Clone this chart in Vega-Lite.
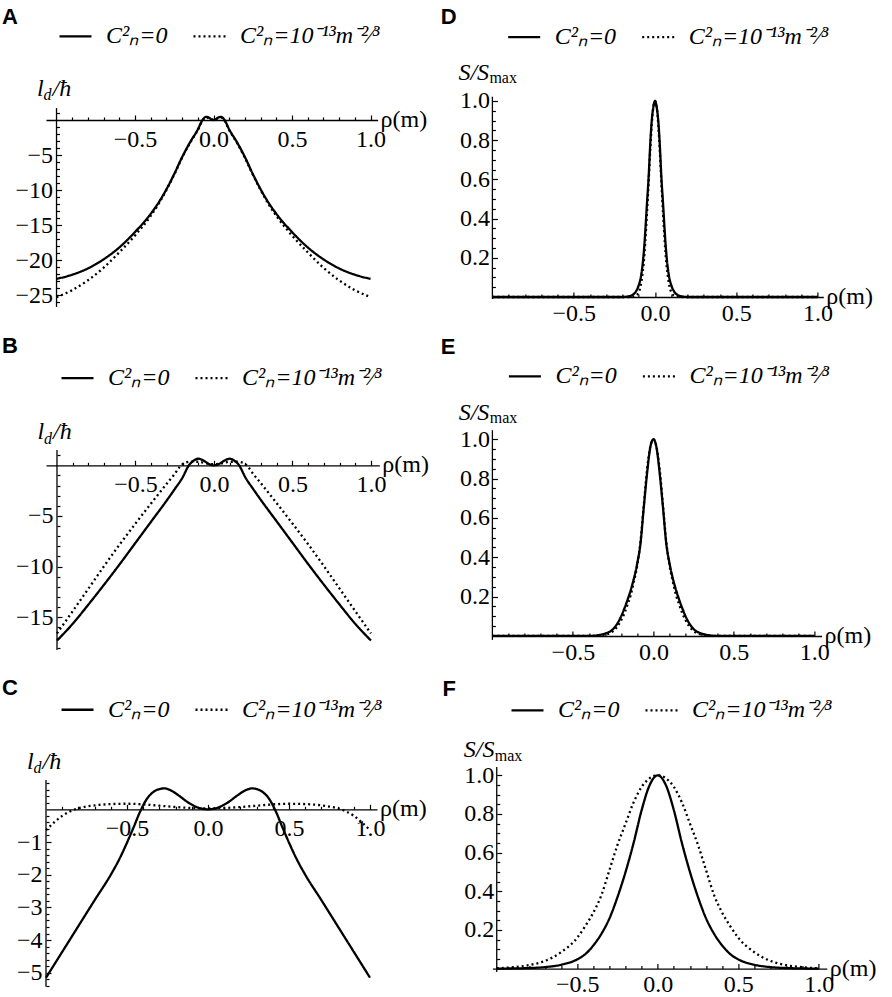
{
  "$schema": "https://vega.github.io/schema/vega-lite/v6.json",
  "background": "white",
  "padding": {"left": 2, "top": 5, "right": 5, "bottom": 5},
  "datasets": {
    "A": [
      {"r":-1,"s":"a","v":-22.7},{"r":-0.9,"s":"a","v":-22.1},{"r":-0.8,"s":"a","v":-21.2},{"r":-0.7,"s":"a","v":-19.9},{"r":-0.6,"s":"a","v":-18.2},{"r":-0.5,"s":"a","v":-16},{"r":-0.4,"s":"a","v":-13.4},{"r":-0.35,"s":"a","v":-11.8},{"r":-0.3,"s":"a","v":-9.9},{"r":-0.25,"s":"a","v":-7.7},{"r":-0.2,"s":"a","v":-5.3},{"r":-0.15,"s":"a","v":-3.2},{"r":-0.1,"s":"a","v":-1.35},{"r":-0.07,"s":"a","v":0},{"r":-0.05,"s":"a","v":0.45},{"r":-0.03,"s":"a","v":0.35},{"r":-0.015,"s":"a","v":0.1},{"r":0,"s":"a","v":0},
      {"r":0.015,"s":"a","v":0.1},{"r":0.03,"s":"a","v":0.35},{"r":0.05,"s":"a","v":0.45},{"r":0.07,"s":"a","v":0},{"r":0.1,"s":"a","v":-1.35},{"r":0.15,"s":"a","v":-3.2},{"r":0.2,"s":"a","v":-5.3},{"r":0.25,"s":"a","v":-7.7},{"r":0.3,"s":"a","v":-9.9},{"r":0.35,"s":"a","v":-11.8},{"r":0.4,"s":"a","v":-13.4},{"r":0.5,"s":"a","v":-16},{"r":0.6,"s":"a","v":-18.2},{"r":0.7,"s":"a","v":-19.9},{"r":0.8,"s":"a","v":-21.2},{"r":0.9,"s":"a","v":-22.1},{"r":1,"s":"a","v":-22.7},
      {"r":-1,"s":"b","v":-25.3},{"r":-0.9,"s":"b","v":-24.3},{"r":-0.8,"s":"b","v":-22.9},{"r":-0.7,"s":"b","v":-21.1},{"r":-0.6,"s":"b","v":-18.9},{"r":-0.5,"s":"b","v":-16.5},{"r":-0.4,"s":"b","v":-13.7},{"r":-0.35,"s":"b","v":-12},{"r":-0.3,"s":"b","v":-10},{"r":-0.25,"s":"b","v":-7.8},{"r":-0.2,"s":"b","v":-5.4},{"r":-0.15,"s":"b","v":-3.3},{"r":-0.1,"s":"b","v":-1.45},{"r":-0.07,"s":"b","v":-0.1},{"r":-0.05,"s":"b","v":0.35},{"r":-0.03,"s":"b","v":0.3},{"r":-0.015,"s":"b","v":0.1},{"r":0,"s":"b","v":0},
      {"r":0.015,"s":"b","v":0.1},{"r":0.03,"s":"b","v":0.3},{"r":0.05,"s":"b","v":0.35},{"r":0.07,"s":"b","v":-0.1},{"r":0.1,"s":"b","v":-1.45},{"r":0.15,"s":"b","v":-3.3},{"r":0.2,"s":"b","v":-5.4},{"r":0.25,"s":"b","v":-7.8},{"r":0.3,"s":"b","v":-10},{"r":0.35,"s":"b","v":-12},{"r":0.4,"s":"b","v":-13.7},{"r":0.5,"s":"b","v":-16.5},{"r":0.6,"s":"b","v":-18.9},{"r":0.7,"s":"b","v":-21.1},{"r":0.8,"s":"b","v":-22.9},{"r":0.9,"s":"b","v":-24.3},{"r":1,"s":"b","v":-25.3}
    ],
    "B": [
      {"r":-1,"s":"a","v":-17.3},{"r":-0.9,"s":"a","v":-15.65},{"r":-0.8,"s":"a","v":-13.75},{"r":-0.7,"s":"a","v":-11.78},{"r":-0.6,"s":"a","v":-9.75},{"r":-0.5,"s":"a","v":-7.65},{"r":-0.4,"s":"a","v":-5.55},{"r":-0.3,"s":"a","v":-3.45},{"r":-0.25,"s":"a","v":-2.35},{"r":-0.2,"s":"a","v":-1.2},{"r":-0.16,"s":"a","v":0},{"r":-0.13,"s":"a","v":0.45},{"r":-0.1,"s":"a","v":0.65},{"r":-0.07,"s":"a","v":0.5},{"r":-0.04,"s":"a","v":0.2},{"r":-0.02,"s":"a","v":0.05},{"r":0,"s":"a","v":0},
      {"r":0.02,"s":"a","v":0.05},{"r":0.04,"s":"a","v":0.2},{"r":0.07,"s":"a","v":0.5},{"r":0.1,"s":"a","v":0.65},{"r":0.13,"s":"a","v":0.45},{"r":0.16,"s":"a","v":0},{"r":0.2,"s":"a","v":-1.2},{"r":0.25,"s":"a","v":-2.35},{"r":0.3,"s":"a","v":-3.45},{"r":0.4,"s":"a","v":-5.55},{"r":0.5,"s":"a","v":-7.65},{"r":0.6,"s":"a","v":-9.75},{"r":0.7,"s":"a","v":-11.78},{"r":0.8,"s":"a","v":-13.75},{"r":0.9,"s":"a","v":-15.65},{"r":1,"s":"a","v":-17.3},
      {"r":-1,"s":"b","v":-16.6},{"r":-0.9,"s":"b","v":-14.4},{"r":-0.8,"s":"b","v":-12.18},{"r":-0.7,"s":"b","v":-9.95},{"r":-0.6,"s":"b","v":-7.8},{"r":-0.5,"s":"b","v":-5.75},{"r":-0.4,"s":"b","v":-3.75},{"r":-0.3,"s":"b","v":-1.8},{"r":-0.25,"s":"b","v":-0.85},{"r":-0.22,"s":"b","v":-0.2},{"r":-0.19,"s":"b","v":0.2},{"r":-0.15,"s":"b","v":0.35},{"r":-0.1,"s":"b","v":0.35},{"r":-0.05,"s":"b","v":0.2},{"r":0,"s":"b","v":0.1},
      {"r":0.05,"s":"b","v":0.2},{"r":0.1,"s":"b","v":0.35},{"r":0.15,"s":"b","v":0.35},{"r":0.19,"s":"b","v":0.2},{"r":0.22,"s":"b","v":-0.2},{"r":0.25,"s":"b","v":-0.85},{"r":0.3,"s":"b","v":-1.8},{"r":0.4,"s":"b","v":-3.75},{"r":0.5,"s":"b","v":-5.75},{"r":0.6,"s":"b","v":-7.8},{"r":0.7,"s":"b","v":-9.95},{"r":0.8,"s":"b","v":-12.18},{"r":0.9,"s":"b","v":-14.4},{"r":1,"s":"b","v":-16.6}
    ],
    "C": [
      {"r":-1,"s":"a","v":-5.15},{"r":-0.9,"s":"a","v":-4.36},{"r":-0.8,"s":"a","v":-3.57},{"r":-0.7,"s":"a","v":-2.78},{"r":-0.6,"s":"a","v":-2},{"r":-0.55,"s":"a","v":-1.55},{"r":-0.5,"s":"a","v":-1.02},{"r":-0.46,"s":"a","v":-0.56},{"r":-0.42,"s":"a","v":-0.08},{"r":-0.38,"s":"a","v":0.3},{"r":-0.34,"s":"a","v":0.52},{"r":-0.3,"s":"a","v":0.62},{"r":-0.27,"s":"a","v":0.64},{"r":-0.23,"s":"a","v":0.58},{"r":-0.18,"s":"a","v":0.42},{"r":-0.12,"s":"a","v":0.2},{"r":-0.06,"s":"a","v":0.05},{"r":0,"s":"a","v":0},
      {"r":0.06,"s":"a","v":0.05},{"r":0.12,"s":"a","v":0.2},{"r":0.18,"s":"a","v":0.42},{"r":0.23,"s":"a","v":0.58},{"r":0.27,"s":"a","v":0.64},{"r":0.3,"s":"a","v":0.62},{"r":0.34,"s":"a","v":0.52},{"r":0.38,"s":"a","v":0.3},{"r":0.42,"s":"a","v":-0.08},{"r":0.46,"s":"a","v":-0.56},{"r":0.5,"s":"a","v":-1.02},{"r":0.55,"s":"a","v":-1.55},{"r":0.6,"s":"a","v":-2},{"r":0.7,"s":"a","v":-2.78},{"r":0.8,"s":"a","v":-3.57},{"r":0.9,"s":"a","v":-4.36},{"r":1,"s":"a","v":-5.15},
      {"r":-1,"s":"b","v":-0.64},{"r":-0.95,"s":"b","v":-0.4},{"r":-0.9,"s":"b","v":-0.2},{"r":-0.85,"s":"b","v":-0.06},{"r":-0.8,"s":"b","v":0.03},{"r":-0.7,"s":"b","v":0.12},{"r":-0.6,"s":"b","v":0.16},{"r":-0.5,"s":"b","v":0.17},{"r":-0.4,"s":"b","v":0.15},{"r":-0.3,"s":"b","v":0.11},{"r":-0.2,"s":"b","v":0.07},{"r":-0.1,"s":"b","v":0.04},{"r":0,"s":"b","v":0.03},
      {"r":0.1,"s":"b","v":0.04},{"r":0.2,"s":"b","v":0.07},{"r":0.3,"s":"b","v":0.11},{"r":0.4,"s":"b","v":0.15},{"r":0.5,"s":"b","v":0.17},{"r":0.6,"s":"b","v":0.16},{"r":0.7,"s":"b","v":0.12},{"r":0.8,"s":"b","v":0.03},{"r":0.85,"s":"b","v":-0.06},{"r":0.9,"s":"b","v":-0.2},{"r":0.95,"s":"b","v":-0.4},{"r":1,"s":"b","v":-0.64}
    ],
    "D": [
      {"r":-1,"s":"a","v":0},{"r":-0.5,"s":"a","v":0},{"r":-0.2,"s":"a","v":0},{"r":-0.17,"s":"a","v":0.002},{"r":-0.14,"s":"a","v":0.01},{"r":-0.12,"s":"a","v":0.025},{"r":-0.1,"s":"a","v":0.06},{"r":-0.09,"s":"a","v":0.09},{"r":-0.08,"s":"a","v":0.14},{"r":-0.072,"s":"a","v":0.2},{"r":-0.065,"s":"a","v":0.27},{"r":-0.055,"s":"a","v":0.4},{"r":-0.05,"s":"a","v":0.47},{"r":-0.04,"s":"a","v":0.6},{"r":-0.028,"s":"a","v":0.8},{"r":-0.02,"s":"a","v":0.9},{"r":-0.01,"s":"a","v":0.97},{"r":0,"s":"a","v":1},
      {"r":0.01,"s":"a","v":0.97},{"r":0.02,"s":"a","v":0.9},{"r":0.028,"s":"a","v":0.8},{"r":0.04,"s":"a","v":0.6},{"r":0.05,"s":"a","v":0.47},{"r":0.055,"s":"a","v":0.4},{"r":0.065,"s":"a","v":0.27},{"r":0.072,"s":"a","v":0.2},{"r":0.08,"s":"a","v":0.14},{"r":0.09,"s":"a","v":0.09},{"r":0.1,"s":"a","v":0.06},{"r":0.12,"s":"a","v":0.025},{"r":0.14,"s":"a","v":0.01},{"r":0.17,"s":"a","v":0.002},{"r":0.2,"s":"a","v":0},{"r":0.5,"s":"a","v":0},{"r":1,"s":"a","v":0},
      {"r":-1,"s":"b","v":0},{"r":-0.5,"s":"b","v":0},{"r":-0.16,"s":"b","v":0},{"r":-0.14,"s":"b","v":0.001},{"r":-0.12,"s":"b","v":0.006},{"r":-0.1,"s":"b","v":0.025},{"r":-0.09,"s":"b","v":0.05},{"r":-0.08,"s":"b","v":0.1},{"r":-0.07,"s":"b","v":0.17},{"r":-0.06,"s":"b","v":0.28},{"r":-0.05,"s":"b","v":0.42},{"r":-0.04,"s":"b","v":0.57},{"r":-0.03,"s":"b","v":0.74},{"r":-0.02,"s":"b","v":0.88},{"r":-0.01,"s":"b","v":0.97},{"r":0,"s":"b","v":1},
      {"r":0.01,"s":"b","v":0.97},{"r":0.02,"s":"b","v":0.88},{"r":0.03,"s":"b","v":0.74},{"r":0.04,"s":"b","v":0.57},{"r":0.05,"s":"b","v":0.42},{"r":0.06,"s":"b","v":0.28},{"r":0.07,"s":"b","v":0.17},{"r":0.08,"s":"b","v":0.1},{"r":0.09,"s":"b","v":0.05},{"r":0.1,"s":"b","v":0.025},{"r":0.12,"s":"b","v":0.006},{"r":0.14,"s":"b","v":0.001},{"r":0.16,"s":"b","v":0},{"r":0.5,"s":"b","v":0},{"r":1,"s":"b","v":0}
    ],
    "E": [
      {"r":-1,"s":"a","v":0},{"r":-0.5,"s":"a","v":0},{"r":-0.4,"s":"a","v":0},{"r":-0.35,"s":"a","v":0.003},{"r":-0.3,"s":"a","v":0.012},{"r":-0.25,"s":"a","v":0.035},{"r":-0.22,"s":"a","v":0.068},{"r":-0.2,"s":"a","v":0.1},{"r":-0.18,"s":"a","v":0.14},{"r":-0.16,"s":"a","v":0.185},{"r":-0.14,"s":"a","v":0.235},{"r":-0.12,"s":"a","v":0.295},{"r":-0.1,"s":"a","v":0.37},{"r":-0.08,"s":"a","v":0.47},{"r":-0.06,"s":"a","v":0.65},{"r":-0.04,"s":"a","v":0.82},{"r":-0.02,"s":"a","v":0.955},{"r":0,"s":"a","v":1},
      {"r":0.02,"s":"a","v":0.955},{"r":0.04,"s":"a","v":0.82},{"r":0.06,"s":"a","v":0.65},{"r":0.08,"s":"a","v":0.47},{"r":0.1,"s":"a","v":0.37},{"r":0.12,"s":"a","v":0.295},{"r":0.14,"s":"a","v":0.235},{"r":0.16,"s":"a","v":0.185},{"r":0.18,"s":"a","v":0.14},{"r":0.2,"s":"a","v":0.1},{"r":0.22,"s":"a","v":0.068},{"r":0.25,"s":"a","v":0.035},{"r":0.3,"s":"a","v":0.012},{"r":0.35,"s":"a","v":0.003},{"r":0.4,"s":"a","v":0},{"r":0.5,"s":"a","v":0},{"r":1,"s":"a","v":0},
      {"r":-1,"s":"b","v":0},{"r":-0.5,"s":"b","v":0},{"r":-0.4,"s":"b","v":0},{"r":-0.35,"s":"b","v":0.001},{"r":-0.3,"s":"b","v":0.006},{"r":-0.25,"s":"b","v":0.025},{"r":-0.22,"s":"b","v":0.052},{"r":-0.2,"s":"b","v":0.08},{"r":-0.18,"s":"b","v":0.115},{"r":-0.16,"s":"b","v":0.16},{"r":-0.14,"s":"b","v":0.21},{"r":-0.12,"s":"b","v":0.28},{"r":-0.1,"s":"b","v":0.36},{"r":-0.08,"s":"b","v":0.48},{"r":-0.06,"s":"b","v":0.66},{"r":-0.04,"s":"b","v":0.84},{"r":-0.02,"s":"b","v":0.96},{"r":0,"s":"b","v":1},
      {"r":0.02,"s":"b","v":0.96},{"r":0.04,"s":"b","v":0.84},{"r":0.06,"s":"b","v":0.66},{"r":0.08,"s":"b","v":0.48},{"r":0.1,"s":"b","v":0.36},{"r":0.12,"s":"b","v":0.28},{"r":0.14,"s":"b","v":0.21},{"r":0.16,"s":"b","v":0.16},{"r":0.18,"s":"b","v":0.115},{"r":0.2,"s":"b","v":0.08},{"r":0.22,"s":"b","v":0.052},{"r":0.25,"s":"b","v":0.025},{"r":0.3,"s":"b","v":0.006},{"r":0.35,"s":"b","v":0.001},{"r":0.4,"s":"b","v":0},{"r":0.5,"s":"b","v":0},{"r":1,"s":"b","v":0}
    ],
    "F": [
      {"r":-1,"s":"a","v":0},{"r":-0.9,"s":"a","v":0.001},{"r":-0.8,"s":"a","v":0.003},{"r":-0.7,"s":"a","v":0.008},{"r":-0.6,"s":"a","v":0.02},{"r":-0.5,"s":"a","v":0.048},{"r":-0.45,"s":"a","v":0.075},{"r":-0.4,"s":"a","v":0.12},{"r":-0.35,"s":"a","v":0.18},{"r":-0.3,"s":"a","v":0.26},{"r":-0.25,"s":"a","v":0.37},{"r":-0.2,"s":"a","v":0.5},{"r":-0.15,"s":"a","v":0.65},{"r":-0.1,"s":"a","v":0.82},{"r":-0.05,"s":"a","v":0.95},{"r":0,"s":"a","v":1},
      {"r":0.05,"s":"a","v":0.95},{"r":0.1,"s":"a","v":0.82},{"r":0.15,"s":"a","v":0.65},{"r":0.2,"s":"a","v":0.5},{"r":0.25,"s":"a","v":0.37},{"r":0.3,"s":"a","v":0.26},{"r":0.35,"s":"a","v":0.18},{"r":0.4,"s":"a","v":0.12},{"r":0.45,"s":"a","v":0.075},{"r":0.5,"s":"a","v":0.048},{"r":0.6,"s":"a","v":0.02},{"r":0.7,"s":"a","v":0.008},{"r":0.8,"s":"a","v":0.003},{"r":0.9,"s":"a","v":0.001},{"r":1,"s":"a","v":0},
      {"r":-1,"s":"b","v":0.002},{"r":-0.9,"s":"b","v":0.007},{"r":-0.8,"s":"b","v":0.018},{"r":-0.7,"s":"b","v":0.04},{"r":-0.6,"s":"b","v":0.085},{"r":-0.5,"s":"b","v":0.16},{"r":-0.45,"s":"b","v":0.22},{"r":-0.4,"s":"b","v":0.29},{"r":-0.35,"s":"b","v":0.38},{"r":-0.3,"s":"b","v":0.51},{"r":-0.25,"s":"b","v":0.64},{"r":-0.2,"s":"b","v":0.75},{"r":-0.15,"s":"b","v":0.86},{"r":-0.1,"s":"b","v":0.94},{"r":-0.05,"s":"b","v":0.985},{"r":0,"s":"b","v":1},
      {"r":0.05,"s":"b","v":0.985},{"r":0.1,"s":"b","v":0.94},{"r":0.15,"s":"b","v":0.86},{"r":0.2,"s":"b","v":0.75},{"r":0.25,"s":"b","v":0.64},{"r":0.3,"s":"b","v":0.51},{"r":0.35,"s":"b","v":0.38},{"r":0.4,"s":"b","v":0.29},{"r":0.45,"s":"b","v":0.22},{"r":0.5,"s":"b","v":0.16},{"r":0.6,"s":"b","v":0.085},{"r":0.7,"s":"b","v":0.04},{"r":0.8,"s":"b","v":0.018},{"r":0.9,"s":"b","v":0.007},{"r":1,"s":"b","v":0.002}
    ]
  },
  "concat": [
    {
      "width": 331.6, "height": 216,
      "title": {"text": "A", "dx": -44, "dy": 14},
      "resolve": {"axis": {"x": "independent", "y": "independent"}},
      "layer": [
        {
          "data": {"name": "A"},
          "mark": {"type": "line", "interpolate": "monotone", "color": "black", "strokeWidth": 2.3},
          "encoding": {
            "x": {"field": "r", "type": "quantitative", "scale": {"domain": [-1.067, 1.045], "nice": false, "zero": false},
                  "axis": {"title": null, "orient": "bottom", "offset": -193, "labelPadding": 12, "values": [-0.5, 0, 0.5, 1], "format": ".1f"}},
            "y": {"field": "v", "type": "quantitative", "scale": {"domain": [-27.571, 3.286], "nice": false, "zero": false},
                  "axis": {"title": null, "orient": "left", "offset": -10.5, "domain": false, "labelPadding": 9, "values": [-25, -20, -15, -10, -5], "format": "d"}},
            "strokeDash": {"field": "s", "type": "nominal", "scale": {"domain": ["a", "b"], "range": [[1, 0], [2, 3]]},
                  "legend": {"title": null, "legendX": 12, "legendY": -78.3, "labelExpr": "datum.value == 'a' ? 'C²ₙ=0' : 'C²ₙ=10⁻¹³m⁻²⁄³'"}}
          }
        },
        {"data": {"values": [{}]}, "mark": {"type": "rule", "color": "black", "strokeWidth": 1.3},
         "encoding": {
           "x": {"datum": -1, "axis": {"title": null, "orient": "bottom", "offset": -193, "domain": false, "labels": false, "tickSize": -3, "values": [-0.9,-0.8,-0.7,-0.6,-0.4,-0.3,-0.2,-0.1,0.1,0.2,0.3,0.4,0.6,0.7,0.8,0.9]}},
           "y": {"datum": -26.7, "axis": {"title": null, "orient": "left", "offset": -10.5, "domain": false, "labels": false, "tickSize": -3, "values": [-26,-24,-23,-22,-21,-19,-18,-17,-16,-14,-13,-12,-11,-9,-8,-7,-6,-4,-3,-2,-1,1]}},
           "y2": {"datum": 1.7}}},
        {"data": {"values": [{}]}, "mark": {"type": "text", "text": "ρ(m)", "align": "left", "baseline": "middle", "dx": 3}, "encoding": {"x": {"datum": 1.045, "axis": null}, "y": {"datum": 0, "axis": null}}},
        {"data": {"values": [{}]}, "mark": {"type": "text", "text": "l", "fontStyle": "italic", "align": "left", "dx": -19.5, "dy": -12.5}, "encoding": {"x": {"datum": -1, "axis": null}, "y": {"datum": 1.7, "axis": null}}},
        {"data": {"values": [{}]}, "mark": {"type": "text", "text": "d", "fontStyle": "italic", "fontSize": 16, "align": "left", "dx": -13, "dy": -8}, "encoding": {"x": {"datum": -1, "axis": null}, "y": {"datum": 1.7, "axis": null}}},
        {"data": {"values": [{}]}, "mark": {"type": "text", "text": "/ħ", "fontStyle": "italic", "align": "left", "dx": -4, "dy": -12.5}, "encoding": {"x": {"datum": -1, "axis": null}, "y": {"datum": 1.7, "axis": null}}}
      ]
    },
    {
      "width": 330.9, "height": 216,
      "title": {"text": "D", "dx": -51.7, "dy": 13.7},
      "resolve": {"axis": {"x": "independent", "y": "independent"}},
      "layer": [
        {
          "data": {"name": "D"},
          "mark": {"type": "line", "interpolate": "monotone", "color": "black", "strokeWidth": 2.3},
          "encoding": {
            "x": {"field": "r", "type": "quantitative", "scale": {"domain": [-1, 1.035], "nice": false, "zero": false},
                  "axis": {"title": null, "orient": "bottom", "offset": -16, "labelPadding": 9, "values": [-0.5, 0, 0.5, 1], "format": ".1f"}},
            "y": {"field": "v", "type": "quantitative", "scale": {"domain": [-0.0816, 1.0204], "nice": false, "zero": false},
                  "axis": {"title": null, "orient": "left", "domain": false, "labelPadding": 8, "values": [0.2, 0.4, 0.6, 0.8, 1], "format": ".1f"}},
            "strokeDash": {"field": "s", "type": "nominal", "scale": {"domain": ["a", "b"], "range": [[1, 0], [2, 3]]},
                  "legend": {"title": null, "legendX": 14.3, "legendY": -77.7, "labelExpr": "datum.value == 'a' ? 'C²ₙ=0' : 'C²ₙ=10⁻¹³m⁻²⁄³'"}}
          }
        },
        {"data": {"values": [{}]}, "mark": {"type": "rule", "color": "black", "strokeWidth": 1.3},
         "encoding": {
           "x": {"datum": -1, "axis": {"title": null, "orient": "bottom", "offset": -16, "domain": false, "labels": false, "tickSize": -3, "values": [-0.9,-0.8,-0.7,-0.6,-0.4,-0.3,-0.2,-0.1,0.1,0.2,0.3,0.4,0.6,0.7,0.8,0.9]}},
           "y": {"datum": -0.01, "axis": {"title": null, "orient": "left", "domain": false, "labels": false, "tickSize": -3, "values": [0.05,0.1,0.15,0.25,0.3,0.35,0.45,0.5,0.55,0.65,0.7,0.75,0.85,0.9,0.95]}},
           "y2": {"datum": 1.022}}},
        {"data": {"values": [{}]}, "mark": {"type": "text", "text": "ρ(m)", "align": "left", "baseline": "middle", "dx": 3}, "encoding": {"x": {"datum": 1.035, "axis": null}, "y": {"datum": 0, "axis": null}}},
        {"data": {"values": [{}]}, "mark": {"type": "text", "text": "S/S", "fontStyle": "italic", "align": "left", "dx": -34, "dy": -17}, "encoding": {"x": {"datum": -1, "axis": null}, "y": {"datum": 1.022, "axis": null}}},
        {"data": {"values": [{}]}, "mark": {"type": "text", "text": "max", "fontSize": 16, "align": "left", "dx": -3, "dy": -13.5}, "encoding": {"x": {"datum": -1, "axis": null}, "y": {"datum": 1.022, "axis": null}}}
      ]
    },
    {
      "width": 333.3, "height": 220,
      "title": {"text": "B", "dx": -44, "dy": 1.7},
      "resolve": {"axis": {"x": "independent", "y": "independent"}},
      "layer": [
        {
          "data": {"name": "B"},
          "mark": {"type": "line", "interpolate": "monotone", "color": "black", "strokeWidth": 2.3},
          "encoding": {
            "x": {"field": "r", "type": "quantitative", "scale": {"domain": [-1.07, 1.053], "nice": false, "zero": false},
                  "axis": {"title": null, "orient": "bottom", "offset": -184.7, "labelPadding": 12, "values": [-0.5, 0, 0.5, 1], "format": ".1f"}},
            "y": {"field": "v", "type": "quantitative", "scale": {"domain": [-18.233, 3.485], "nice": false, "zero": false},
                  "axis": {"title": null, "orient": "left", "offset": -11, "domain": false, "labelPadding": 9, "values": [-15, -10, -5], "format": "d"}},
            "strokeDash": {"field": "s", "type": "nominal", "scale": {"domain": ["a", "b"], "range": [[1, 0], [2, 3]]},
                  "legend": {"title": null, "legendX": 14, "legendY": -69.7, "labelExpr": "datum.value == 'a' ? 'C²ₙ=0' : 'C²ₙ=10⁻¹³m⁻²⁄³'"}}
          }
        },
        {"data": {"values": [{}]}, "mark": {"type": "rule", "color": "black", "strokeWidth": 1.3},
         "encoding": {
           "x": {"datum": -1, "axis": {"title": null, "orient": "bottom", "offset": -184.7, "domain": false, "labels": false, "tickSize": -3, "values": [-0.9,-0.8,-0.7,-0.6,-0.4,-0.3,-0.2,-0.1,0.1,0.2,0.3,0.4,0.6,0.7,0.8,0.9]}},
           "y": {"datum": -18.24, "axis": {"title": null, "orient": "left", "offset": -11, "domain": false, "labels": false, "tickSize": -3, "values": [-18,-17,-16,-14,-13,-12,-11,-9,-8,-7,-6,-4,-3,-2,-1,1]}},
           "y2": {"datum": 1.5}}},
        {"data": {"values": [{}]}, "mark": {"type": "text", "text": "ρ(m)", "align": "left", "baseline": "middle", "dx": 3}, "encoding": {"x": {"datum": 1.053, "axis": null}, "y": {"datum": 0, "axis": null}}},
        {"data": {"values": [{}]}, "mark": {"type": "text", "text": "l", "fontStyle": "italic", "align": "left", "dx": -19.5, "dy": -11}, "encoding": {"x": {"datum": -1, "axis": null}, "y": {"datum": 1.5, "axis": null}}},
        {"data": {"values": [{}]}, "mark": {"type": "text", "text": "d", "fontStyle": "italic", "fontSize": 16, "align": "left", "dx": -13, "dy": -6.5}, "encoding": {"x": {"datum": -1, "axis": null}, "y": {"datum": 1.5, "axis": null}}},
        {"data": {"values": [{}]}, "mark": {"type": "text", "text": "/ħ", "fontStyle": "italic", "align": "left", "dx": -4, "dy": -11}, "encoding": {"x": {"datum": -1, "axis": null}, "y": {"datum": 1.5, "axis": null}}}
      ]
    },
    {
      "width": 329.2, "height": 220,
      "title": {"text": "E", "dx": -51.7, "dy": 4.3},
      "resolve": {"axis": {"x": "independent", "y": "independent"}},
      "layer": [
        {
          "data": {"name": "E"},
          "mark": {"type": "line", "interpolate": "monotone", "color": "black", "strokeWidth": 2.3},
          "encoding": {
            "x": {"field": "r", "type": "quantitative", "scale": {"domain": [-1, 1.045], "nice": false, "zero": false},
                  "axis": {"title": null, "orient": "bottom", "offset": -14, "labelPadding": 9, "values": [-0.5, 0, 0.5, 1], "format": ".1f"}},
            "y": {"field": "v", "type": "quantitative", "scale": {"domain": [-0.0715, 1.047], "nice": false, "zero": false},
                  "axis": {"title": null, "orient": "left", "domain": false, "labelPadding": 8, "values": [0.2, 0.4, 0.6, 0.8, 1], "format": ".1f"}},
            "strokeDash": {"field": "s", "type": "nominal", "scale": {"domain": ["a", "b"], "range": [[1, 0], [2, 3]]},
                  "legend": {"title": null, "legendX": 15, "legendY": -71.3, "labelExpr": "datum.value == 'a' ? 'C²ₙ=0' : 'C²ₙ=10⁻¹³m⁻²⁄³'"}}
          }
        },
        {"data": {"values": [{}]}, "mark": {"type": "rule", "color": "black", "strokeWidth": 1.3},
         "encoding": {
           "x": {"datum": -1, "axis": {"title": null, "orient": "bottom", "offset": -14, "domain": false, "labels": false, "tickSize": -3, "values": [-0.9,-0.8,-0.7,-0.6,-0.4,-0.3,-0.2,-0.1,0.1,0.2,0.3,0.4,0.6,0.7,0.8,0.9]}},
           "y": {"datum": -0.02, "axis": {"title": null, "orient": "left", "domain": false, "labels": false, "tickSize": -3, "values": [0.05,0.1,0.15,0.25,0.3,0.35,0.45,0.5,0.55,0.65,0.7,0.75,0.85,0.9,0.95]}},
           "y2": {"datum": 1.046}}},
        {"data": {"values": [{}]}, "mark": {"type": "text", "text": "ρ(m)", "align": "left", "baseline": "middle", "dx": 3}, "encoding": {"x": {"datum": 1.045, "axis": null}, "y": {"datum": 0, "axis": null}}},
        {"data": {"values": [{}]}, "mark": {"type": "text", "text": "S/S", "fontStyle": "italic", "align": "left", "dx": -33.7, "dy": -10.5}, "encoding": {"x": {"datum": -1, "axis": null}, "y": {"datum": 1.046, "axis": null}}},
        {"data": {"values": [{}]}, "mark": {"type": "text", "text": "max", "fontSize": 16, "align": "left", "dx": -2.7, "dy": -7}, "encoding": {"x": {"datum": -1, "axis": null}, "y": {"datum": 1.046, "axis": null}}}
      ]
    },
    {
      "width": 331, "height": 220,
      "title": {"text": "C", "dx": -44, "dy": 12},
      "resolve": {"axis": {"x": "independent", "y": "independent"}},
      "layer": [
        {
          "data": {"name": "C"},
          "mark": {"type": "line", "interpolate": "monotone", "color": "black", "strokeWidth": 2.3},
          "encoding": {
            "x": {"field": "r", "type": "quantitative", "scale": {"domain": [-1, 1.043], "nice": false, "zero": false},
                  "axis": {"title": null, "orient": "bottom", "offset": -177.7, "labelPadding": 12, "values": [-0.5, 0, 0.5, 1], "format": ".1f"}},
            "y": {"field": "v", "type": "quantitative", "scale": {"domain": [-5.434, 1.294], "nice": false, "zero": false},
                  "axis": {"title": null, "orient": "left", "domain": false, "labelPadding": 9, "values": [-5, -4, -3, -2, -1], "format": "d"}},
            "strokeDash": {"field": "s", "type": "nominal", "scale": {"domain": ["a", "b"], "range": [[1, 0], [2, 3]]},
                  "legend": {"title": null, "legendX": 14, "legendY": -75, "labelExpr": "datum.value == 'a' ? 'C²ₙ=0' : 'C²ₙ=10⁻¹³m⁻²⁄³'"}}
          }
        },
        {"data": {"values": [{}]}, "mark": {"type": "rule", "color": "black", "strokeWidth": 1.3},
         "encoding": {
           "x": {"datum": -1, "axis": {"title": null, "orient": "bottom", "offset": -177.7, "domain": false, "labels": false, "tickSize": -3, "values": [-0.9,-0.8,-0.7,-0.6,-0.4,-0.3,-0.2,-0.1,0.1,0.2,0.3,0.4,0.6,0.7,0.8,0.9]}},
           "y": {"datum": -5.43, "axis": {"title": null, "orient": "left", "domain": false, "labels": false, "tickSize": -3, "values": [-5.4,-5.2,-4.8,-4.6,-4.4,-4.2,-3.8,-3.6,-3.4,-3.2,-2.8,-2.6,-2.4,-2.2,-1.8,-1.6,-1.4,-1.2,-0.8,-0.6,-0.4,-0.2,0.2,0.4,0.6,0.8]}},
           "y2": {"datum": 0.9}}},
        {"data": {"values": [{}]}, "mark": {"type": "text", "text": "ρ(m)", "align": "left", "baseline": "middle", "dx": 3}, "encoding": {"x": {"datum": 1.043, "axis": null}, "y": {"datum": 0, "axis": null}}},
        {"data": {"values": [{}]}, "mark": {"type": "text", "text": "l", "fontStyle": "italic", "align": "left", "dx": -19, "dy": -11}, "encoding": {"x": {"datum": -1, "axis": null}, "y": {"datum": 0.9, "axis": null}}},
        {"data": {"values": [{}]}, "mark": {"type": "text", "text": "d", "fontStyle": "italic", "fontSize": 16, "align": "left", "dx": -12.5, "dy": -6.5}, "encoding": {"x": {"datum": -1, "axis": null}, "y": {"datum": 0.9, "axis": null}}},
        {"data": {"values": [{}]}, "mark": {"type": "text", "text": "/ħ", "fontStyle": "italic", "align": "left", "dx": -3.5, "dy": -11}, "encoding": {"x": {"datum": -1, "axis": null}, "y": {"datum": 0.9, "axis": null}}}
      ]
    },
    {
      "width": 334.4, "height": 220,
      "title": {"text": "F", "dx": -50, "dy": 12.3},
      "resolve": {"axis": {"x": "independent", "y": "independent"}},
      "layer": [
        {
          "data": {"name": "F"},
          "mark": {"type": "line", "interpolate": "monotone", "color": "black", "strokeWidth": 2.3},
          "encoding": {
            "x": {"field": "r", "type": "quantitative", "scale": {"domain": [-1.027, 1.05], "nice": false, "zero": false},
                  "axis": {"title": null, "orient": "bottom", "offset": -18.4, "labelPadding": 9, "values": [-0.5, 0, 0.5, 1], "format": ".1f"}},
            "y": {"field": "v", "type": "quantitative", "scale": {"domain": [-0.095, 1.043], "nice": false, "zero": false},
                  "axis": {"title": null, "orient": "left", "offset": -4.3, "domain": false, "labelPadding": 8, "values": [0.2, 0.4, 0.6, 0.8, 1], "format": ".1f"}},
            "strokeDash": {"field": "s", "type": "nominal", "scale": {"domain": ["a", "b"], "range": [[1, 0], [2, 3]]},
                  "legend": {"title": null, "legendX": 17.6, "legendY": -74.3, "labelExpr": "datum.value == 'a' ? 'C²ₙ=0' : 'C²ₙ=10⁻¹³m⁻²⁄³'"}}
          }
        },
        {"data": {"values": [{}]}, "mark": {"type": "rule", "color": "black", "strokeWidth": 1.3},
         "encoding": {
           "x": {"datum": -1, "axis": {"title": null, "orient": "bottom", "offset": -18.4, "domain": false, "labels": false, "tickSize": -3, "values": [-0.9,-0.8,-0.7,-0.6,-0.4,-0.3,-0.2,-0.1,0.1,0.2,0.3,0.4,0.6,0.7,0.8,0.9]}},
           "y": {"datum": -0.017, "axis": {"title": null, "orient": "left", "offset": -4.3, "domain": false, "labels": false, "tickSize": -3, "values": [0.05,0.1,0.15,0.25,0.3,0.35,0.45,0.5,0.55,0.65,0.7,0.75,0.85,0.9,0.95]}},
           "y2": {"datum": 1.043}}},
        {"data": {"values": [{}]}, "mark": {"type": "text", "text": "ρ(m)", "align": "left", "baseline": "middle", "dx": 3}, "encoding": {"x": {"datum": 1.05, "axis": null}, "y": {"datum": 0, "axis": null}}},
        {"data": {"values": [{}]}, "mark": {"type": "text", "text": "S/S", "fontStyle": "italic", "align": "left", "dx": -33, "dy": -10}, "encoding": {"x": {"datum": -1, "axis": null}, "y": {"datum": 1.043, "axis": null}}},
        {"data": {"values": [{}]}, "mark": {"type": "text", "text": "max", "fontSize": 16, "align": "left", "dx": -2, "dy": -6.5}, "encoding": {"x": {"datum": -1, "axis": null}, "y": {"datum": 1.043, "axis": null}}}
      ]
    }
  ],
  "columns": 2,
  "align": "each",
  "bounds": "flush",
  "spacing": {"row": 117, "column": 112.4},
  "resolve": {"scale": {"x": "independent", "y": "independent", "strokeDash": "independent"}, "axis": {"x": "independent", "y": "independent"}, "legend": {"strokeDash": "independent"}},
  "config": {
    "view": {"stroke": null},
    "font": "Liberation Serif, Times New Roman, serif",
    "axis": {"labelFont": "Liberation Serif, Times New Roman, serif", "labelFontSize": 24, "labelColor": "black", "tickColor": "black", "domainColor": "black", "domainWidth": 1.3, "tickWidth": 1.2, "tickSize": -5, "grid": false, "labelFlush": false},
    "legend": {"orient": "none", "direction": "horizontal", "symbolType": "stroke", "symbolSize": 1024, "symbolStrokeWidth": 2.3, "symbolStrokeColor": "black", "labelFont": "Liberation Serif, Times New Roman, serif", "labelFontSize": 24, "labelFontStyle": "italic", "labelColor": "black", "labelOffset": 13, "columnPadding": 20, "padding": 0, "labelLimit": 400},
    "title": {"font": "Liberation Sans", "fontSize": 22, "fontWeight": "bold", "anchor": "start", "frame": "group", "color": "black", "offset": 0},
    "text": {"font": "Liberation Serif, Times New Roman, serif", "fontSize": 24, "color": "black", "baseline": "alphabetic"}
  }
}
